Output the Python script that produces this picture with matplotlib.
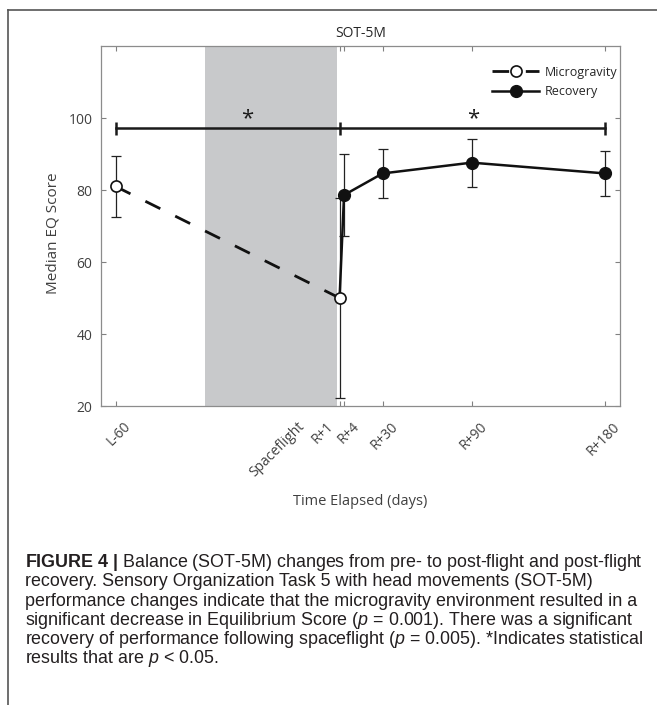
import matplotlib
matplotlib.use("Agg")
import matplotlib.pyplot as plt
import matplotlib.transforms as mtransforms
from matplotlib.lines import Line2D

plt.rcParams["font.family"] = ["Open Sans", "DejaVu Sans"]
plt.rcParams["mathtext.fontset"] = "custom"
plt.rcParams["mathtext.rm"] = "Liberation Sans"
plt.rcParams["mathtext.it"] = "Liberation Sans:italic"
plt.rcParams["mathtext.bf"] = "Liberation Sans:bold"

# x = days after return (R+n), pre-flight squeezed onto the same axis
micro_x = [-150, 1]
micro_med = [81, 50]
micro_lo = [72.5, 22.3]
micro_hi = [89.5, 77.7]

rec_x = [1, 4, 30, 90, 180]
rec_med = [50, 78.6, 84.6, 87.6, 84.6]
rec_lo = [None, 67.3, 77.7, 80.8, 78.3]
rec_hi = [None, 90.0, 91.4, 94.1, 90.8]

flight_span = (-90, -1)
sig_y = 97.2
sig_x = [-150, 1, 180]
star_x = [-61, 91]

tick_x = [-150, 1, 4, 30, 90, 180]
label_x = [-150, -33, -13, 4, 30, 90, 180]
label_txt = ["L-60", "Spaceflight", "R+1", "R+4", "R+30", "R+90", "R+180"]
y_ticks = [20, 40, 60, 80, 100]

caption = [
    r"$\mathbf{FIGURE\ 4\ |}$ Balance (SOT-5M) changes from pre- to post-flight and post-flight",
    "recovery. Sensory Organization Task 5 with head movements (SOT-5M)",
    "performance changes indicate that the microgravity environment resulted in a",
    r"significant decrease in Equilibrium Score ($\mathit{p}$ = 0.001). There was a significant",
    r"recovery of performance following spaceflight ($\mathit{p}$ = 0.005). *Indicates statistical",
    r"results that are $\mathit{p}$ < 0.05.",
]

W, H = 657, 705
fig = plt.figure(figsize=(W / 100, H / 100), dpi=100)
ax = fig.add_axes([100.7 / W, 1 - 406 / H, (620 - 100.7) / W, (406 - 46) / H])

ax.axvspan(*flight_span, color="#c8c9cb", lw=0, zorder=0)

# recovery (solid, filled)
rec_line, = ax.plot(rec_x, rec_med, color="#111111", lw=1.8, marker="o", ms=8.5,
                    mfc="#111111", mec="#111111", markevery=list(range(1, len(rec_x))),
                    zorder=3, label="Recovery")
for x, lo, hi, m in zip(rec_x, rec_lo, rec_hi, rec_med):
    if lo is None:
        continue
    ax.errorbar([x], [m], yerr=[[m - lo], [hi - m]], fmt="none", ecolor="#222222",
                elinewidth=0.9, capsize=3.3, capthick=0.9, zorder=2)

# microgravity (dashed, open)
for x, lo, hi, m in zip(micro_x, micro_lo, micro_hi, micro_med):
    ax.errorbar([x], [m], yerr=[[m - lo], [hi - m]], fmt="none", ecolor="#222222",
                elinewidth=0.9, capsize=3.3, capthick=0.9, zorder=2)
micro_line, = ax.plot(micro_x, micro_med, color="#111111", lw=2.0, ls=(0, (6, 6)),
                      marker="o", ms=8, mfc="white", mec="#111111", mew=1.2,
                      zorder=4, label="Microgravity")

# significance bar
ax.plot([sig_x[0], sig_x[-1]], [sig_y, sig_y], color="#1a1a1a", lw=1.8, zorder=3)
ax.vlines(sig_x, sig_y - 1.8, sig_y + 1.8, color="#1a1a1a", lw=1.8, zorder=3)
for sx in star_x:
    ax.text(sx, sig_y + 1.0, "*", ha="center", va="baseline", fontsize=16, color="#1a1a1a")

ax.set_xlim(-160, 190)
ax.set_ylim(20, 120)
ax.set_xticks(tick_x)
ax.set_xticklabels([""] * len(tick_x))
ax.set_yticks(y_ticks)
ax.tick_params(direction="in", length=3.6, width=0.8, color="#808080",
               labelcolor="#404040", labelsize=10, top=True, right=True, pad=6)
for s in ax.spines.values():
    s.set_color("#8c8c8c")
    s.set_linewidth(0.9)

base = mtransforms.blended_transform_factory(ax.transData, ax.transAxes)
lab_tr = mtransforms.offset_copy(base, fig=fig, x=5.5, y=-9.5, units="points")
for x, t in zip(label_x, label_txt):
    ax.text(x, 0, t, transform=lab_tr, rotation=45, rotation_mode="anchor",
            ha="right", va="top", fontsize=10, color="#404040")

ax.set_title("SOT-5M", y=1.035, va="center", pad=0, fontsize=10, color="#262626")
ax.set_ylabel("Median EQ Score", fontsize=11, color="#404040")
ax.yaxis.set_label_coords((53.3 - 100.7) / 519.3, (406 - 233) / 360)
ax.yaxis.label.set_va("center")
ax.set_xlabel("Time Elapsed (days)", fontsize=10.5, color="#404040")
ax.xaxis.set_label_coords(0.5, (406 - 501.7) / 360)
ax.xaxis.label.set_va("center")

ax.legend(handles=[micro_line, rec_line], loc="upper right", frameon=False,
          bbox_to_anchor=(0.995, 0.945), borderaxespad=0, borderpad=0,
          handlelength=3.75, handletextpad=0.45, labelspacing=0.5, fontsize=9,
          labelcolor="#262626")

# outer frame (top and left only)
fig.add_artist(Line2D([7.5 / W, 7.5 / W], [0, 1 - 9.5 / H], transform=fig.transFigure,
                      color="#555555", lw=1.2))
fig.add_artist(Line2D([7.5 / W, 1], [1 - 9.5 / H, 1 - 9.5 / H], transform=fig.transFigure,
                      color="#555555", lw=1.2))

line_y = [562.7, 581.9, 601.1, 620.3, 639.5, 658.7]
for yy, line in zip(line_y, caption):
    fig.text(25 / W, 1 - yy / H, line, ha="left", va="center", fontsize=12.9,
             color="#231f20", family="Liberation Sans")

fig.savefig("out.png", dpi=100)
